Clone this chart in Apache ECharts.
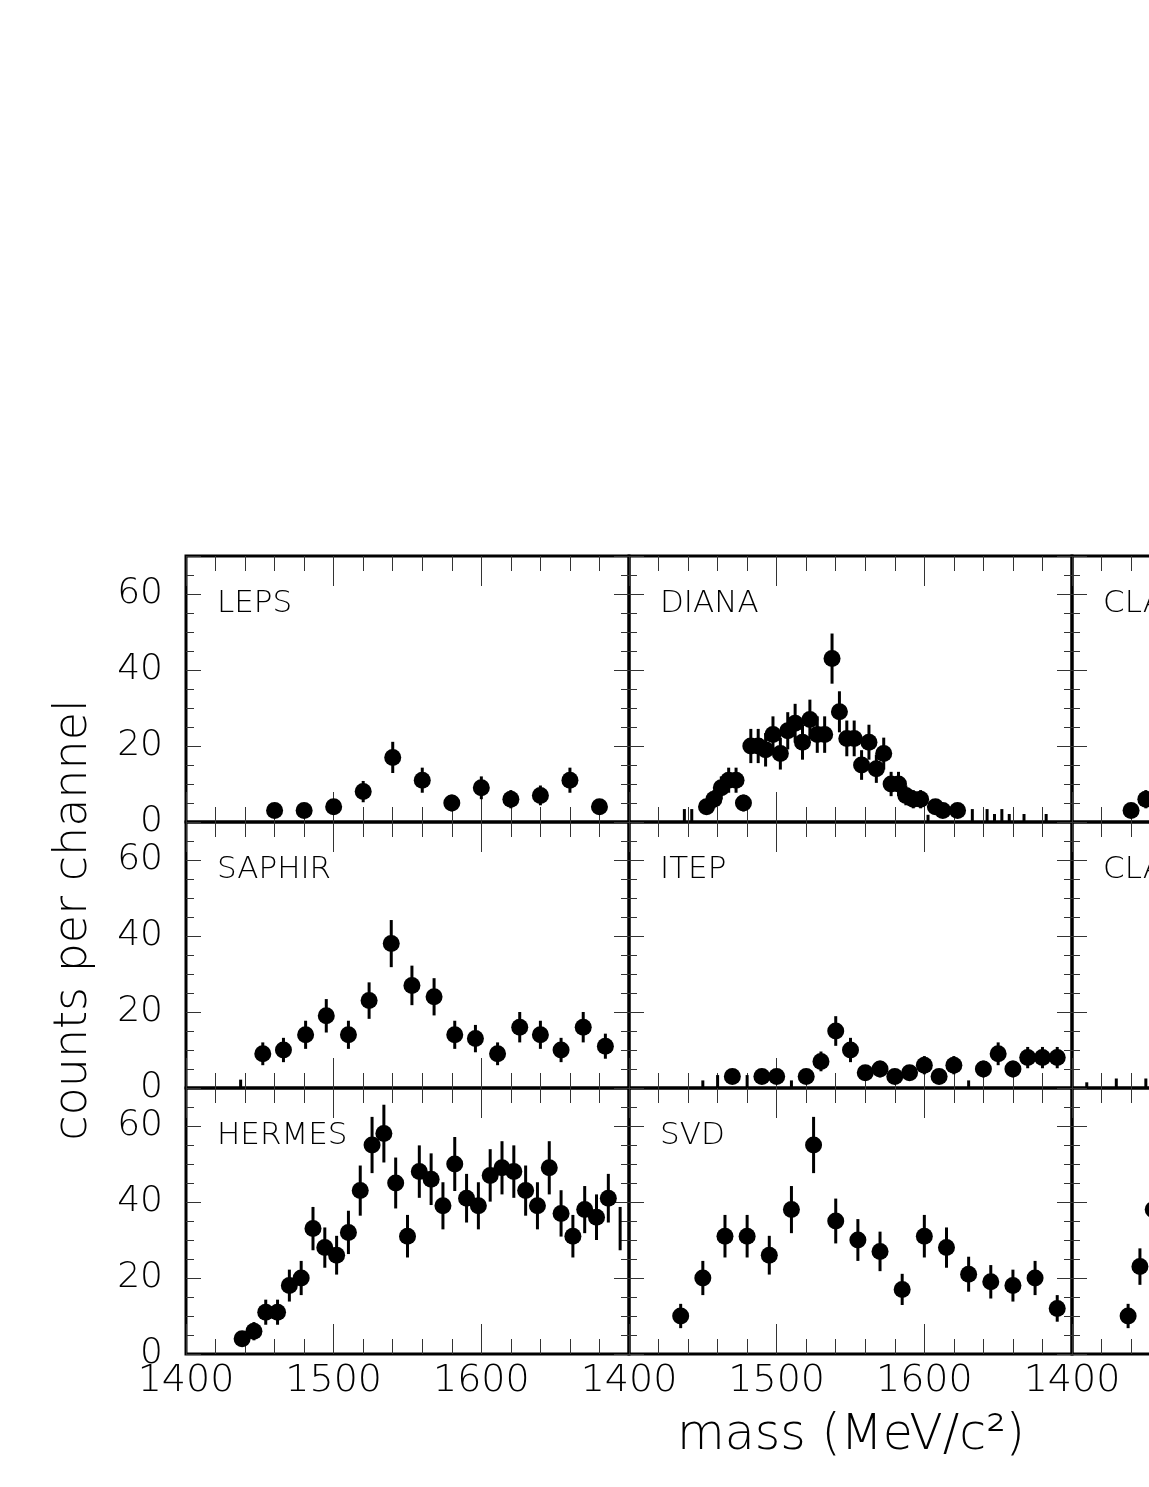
<!DOCTYPE html>
<html><head><meta charset="utf-8">
<script src="https://cdn.jsdelivr.net/npm/echarts@6/dist/echarts.min.js"></script>
<style>html,body{margin:0;padding:0;background:#fff}#c{width:1149px;height:1487px}</style>
</head><body><div id="c"></div>
<script>
// ---------- data (mass in MeV/c^2, counts per channel) ----------
const lepsX   = [1460,1480,1500,1520,1540,1560,1580,1600,1620,1640,1660,1680];
const lepsY   = [3,3,4,8,17,11,5,9,6,7,11,4];
const lepsErr = [1.7,1.7,2,2.8,4.1,3.3,2.2,3,2.4,2.6,3.3,2];

const dianaX   = [1452.5,1457.5,1462.5,1467.5,1472.5,1477.5,1482.5,1487.5,1492.5,1497.5,1502.5,1507.5,1512.5,1517.5,1522.5,1527.5,1532.5,1537.5,1542.5,1547.5,1552.5,1557.5,1562.5,1567.5,1572.5,1577.5,1582.5,1587.5,1592.5,1597.5,1607.5,1612.5,1622.5];
const dianaY   = [4,6,9,11,11,5,20,20,19,23,18,24,26,21,27,23,23,43,29,22,22,15,21,14,18,10,10,7,6,6,4,3,3];
const dianaErr = [2,2.4,3,3.3,3.3,2.2,4.5,4.5,4.4,4.8,4.2,4.9,5.1,4.6,5.2,4.8,4.8,6.6,5.4,4.7,4.7,3.9,4.6,3.7,4.2,3.2,3.2,2.6,2.4,2.4,2,1.7,1.7];
const dianaLowX   = [1437.5,1442.5,1602.5,1632.5,1642.5,1647.5,1652.5,1657.5,1667.5,1682.5];
const dianaLowTop = [3.4,3.4,1.9,3.4,3.4,2.1,3.4,2.1,2.1,2.1];

const clasDX   = [1440,1450];
const clasDY   = [3,6];
const clasDErr = [1.7,2.4];

const saphirX   = [1452,1466,1481,1495,1510,1524,1539,1553,1568,1582,1596,1611,1626,1640,1654,1669,1684];
const saphirY   = [9,10,14,19,14,23,38,27,24,14,13,9,16,14,10,16,11];
const saphirErr = [3,3.2,3.7,4.4,3.7,4.8,6.2,5.2,4.9,3.7,3.6,3,4,3.7,3.2,4,3.3];
const saphirLowX   = [1437];
const saphirLowTop = [2.2];

const itepX   = [1470,1490,1500,1520,1530,1540,1550,1560,1570,1580,1590,1600,1610,1620,1640,1650,1660,1670,1680,1690];
const itepY   = [3,3,3,3,7,15,10,4,5,3,4,6,3,6,5,9,5,8,8,8];
const itepErr = [1.7,1.7,1.7,1.7,2.6,3.9,3.2,2,2.2,1.7,2,2.4,1.7,2.4,2.2,3,2.2,2.8,2.8,2.8];
const itepLowX   = [1450,1460,1480,1510,1630];
const itepLowTop = [2,3.4,3.4,2,2];

const clasPLowX   = [1410,1430,1450];
const clasPLowTop = [1.5,2.5,2.5];

const hermesX   = [1438,1446,1454,1462,1470,1478,1486,1494,1502,1510,1518,1526,1534,1542,1550,1558,1566,1574,1582,1590,1598,1606,1614,1622,1630,1638,1646,1654,1662,1670,1678,1686];
const hermesY   = [4,6,11,11,18,20,33,28,26,32,43,55,58,45,31,48,46,39,50,41,39,47,49,48,43,39,49,37,31,38,36,41];
const hermesErr = [2,2.4,3.3,3.3,4.2,4.5,5.7,5.3,5.1,5.7,6.6,7.4,7.6,6.7,5.6,6.9,6.8,6.2,7.1,6.4,6.2,6.9,7,6.9,6.6,6.2,7,6.1,5.6,6.2,6,6.4];
const hermesBarX = [1694], hermesBarY = [33], hermesBarErr = [5.7];

const svdX   = [1435,1450,1465,1480,1495,1510,1525,1540,1555,1570,1585,1600,1615,1630,1645,1660,1675,1690];
const svdY   = [10,20,31,31,26,38,55,35,30,27,17,31,28,21,19,18,20,12];
const svdErr = [3.2,4.5,5.6,5.6,5.1,6.2,7.4,5.9,5.5,5.2,4.1,5.6,5.3,4.6,4.4,4.2,4.5,3.5];

const thirdX   = [1438,1446,1455];
const thirdY   = [10,23,38];
const thirdErr = [3.2,4.8,6.2];

const panelNames  = ['LEPS','DIANA','CLAS','SAPHIR','ITEP','CLAS','HERMES','SVD',''];
const xTickLabels = [1400,1500,1600];
const yTickLabels = [0,20,40,60];
const yTitle = 'counts per channel';
const xTitle = 'mass (MeV/c\u00B2)';

// ---------- panels ----------
const panels = [
  {x:lepsX,  y:lepsY,  e:lepsErr},
  {x:dianaX, y:dianaY, e:dianaErr, lx:dianaLowX, lt:dianaLowTop},
  {x:clasDX, y:clasDY, e:clasDErr},
  {x:saphirX,y:saphirY,e:saphirErr, lx:saphirLowX, lt:saphirLowTop},
  {x:itepX,  y:itepY,  e:itepErr, lx:itepLowX, lt:itepLowTop},
  {x:[], y:[], e:[], lx:clasPLowX, lt:clasPLowTop},
  {x:hermesX,y:hermesY,e:hermesErr, bx:hermesBarX, by:hermesBarY, be:hermesBarErr},
  {x:svdX,   y:svdY,   e:svdErr},
  {x:thirdX, y:thirdY, e:thirdErr}
];

const FONT = 'DejaVu Sans';
const colLeft = [186, 629, 1072], rowTop = [556, 822, 1088], W = 443, H = 266;
const tickStyle = {color:'#333', width:1};
const grid = [], xAxis = [], yAxis = [], series = [], graphic = [];

function errRender(params, api){
  const x = api.value(0), y = api.value(1), e = api.value(2);
  const p1 = api.coord([x, Math.max(0, y - e)]), p2 = api.coord([x, y + e]);
  return {type:'line', shape:{x1:p1[0], y1:p1[1], x2:p2[0], y2:p2[1]},
          style:{stroke:'#000', lineWidth:3}};
}

panels.forEach((p, i) => {
  const r = Math.floor(i / 3), c = i % 3;
  grid.push({left:colLeft[c], top:rowTop[r], width:W, height:H, show:true,
    borderColor:'#000', borderWidth:3, backgroundColor:'transparent',
    containLabel:false, outerBoundsMode:'none'});
  const xa = (pos, lab) => ({gridIndex:i, type:'value', position:pos, min:1400, max:1700, interval:100,
    axisLine:{show:false, onZero:false}, splitLine:{show:false},
    axisTick:{show:true, inside:true, length:30, lineStyle:tickStyle},
    minorTick:{show:true, splitNumber:5, length:15, lineStyle:tickStyle},
    axisLabel:{show:lab, interval:0, margin:8, fontFamily:FONT, fontWeight:200, fontSize:38, color:'#000',
      formatter: v => xTickLabels.includes(v) ? String(v) : ''}});
  xAxis.push(xa('bottom', r === 2), xa('top', false));
  const ya = (pos, itv, len, lab) => ({gridIndex:i, type:'value', position:pos, min:0, max:70, interval:itv,
    axisLine:{show:false, onZero:false}, splitLine:{show:false},
    axisTick:{show:true, inside:true, length:len, lineStyle:tickStyle},
    axisLabel:{show:lab, margin:23, fontFamily:FONT, fontWeight:200, fontSize:36, color:'#000',
      formatter: v => yTickLabels.includes(v) ? String(v) : ''}});
  yAxis.push(ya('left',20,15,c === 0), ya('left',5,8,false), ya('right',20,15,false), ya('right',5,8,false));
  const xi = 2 * i, yi = 4 * i;
  const errData = p.x.map((x, k) => [x, p.y[k], p.e[k]]);
  if (p.lx) p.lx.forEach((x, k) => errData.push([x, 0, p.lt[k]]));
  if (p.bx) p.bx.forEach((x, k) => errData.push([x, p.by[k], p.be[k]]));
  series.push({type:'custom', xAxisIndex:xi, yAxisIndex:yi, data:errData, renderItem:errRender, silent:true, z:2});
  series.push({type:'scatter', xAxisIndex:xi, yAxisIndex:yi, symbol:'circle', symbolSize:17,
    itemStyle:{color:'#000', opacity:1}, data:p.x.map((x, k) => [x, p.y[k]]), silent:true, z:3});
  if (panelNames[i]) {
    graphic.push({type:'text', x:colLeft[c] + 31, y:rowTop[r] + 48, silent:true,
      style:{text:panelNames[i], fontFamily:FONT, fontWeight:200, fontSize:31, fill:'#000',
             align:'left', verticalAlign:'middle', textAlign:'left', textVerticalAlign:'middle'}});
  }
});

graphic.push({type:'text', x:74, y:920, rotation:Math.PI/2, silent:true,
  style:{text:yTitle, fontFamily:FONT, fontWeight:200, fontSize:46, fill:'#000',
         align:'center', verticalAlign:'middle', textAlign:'center', textVerticalAlign:'middle'}});
graphic.push({type:'text', x:851, y:1436, silent:true,
  style:{text:xTitle, fontFamily:FONT, fontWeight:200, fontSize:49, fill:'#000',
         align:'center', verticalAlign:'middle', textAlign:'center', textVerticalAlign:'middle'}});

const chart = echarts.init(document.getElementById('c'), null, {renderer:'canvas'});
chart.setOption({animation:false, backgroundColor:'#fff', grid, xAxis, yAxis, series, graphic});
</script></body></html>
